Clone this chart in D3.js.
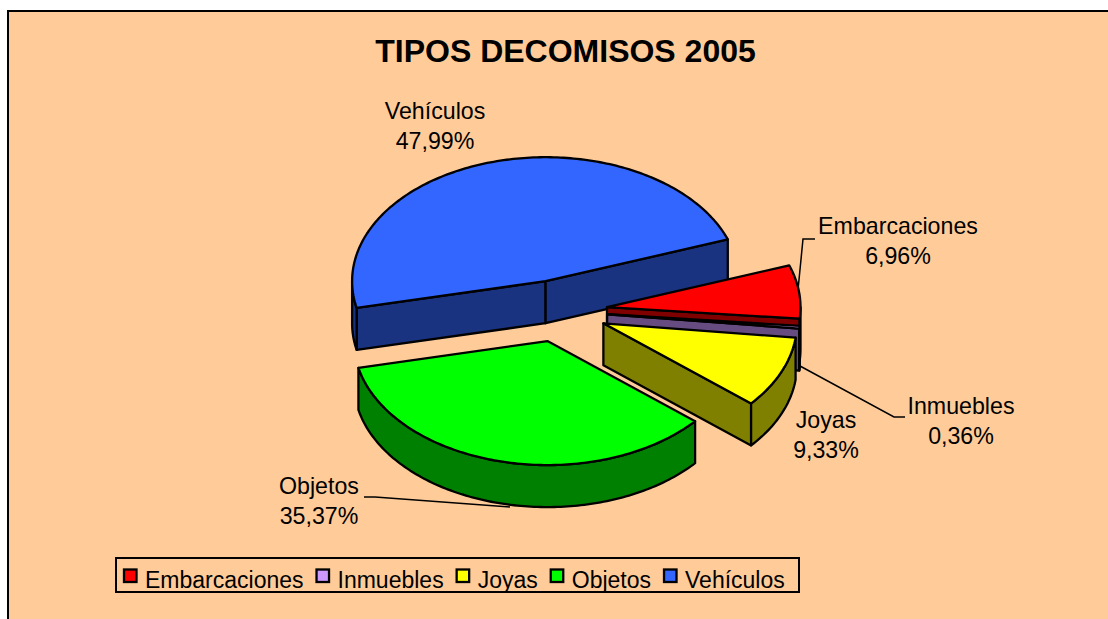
<!DOCTYPE html>
<html>
<head>
<meta charset="utf-8">
<script src="https://cdn.jsdelivr.net/npm/d3@7"></script>
<style>
  html, body { margin: 0; padding: 0; background: #fff; }
  svg { display: block; }
  text { font-family: "Liberation Sans", Arial, sans-serif; fill: #000; }
</style>
</head>
<body>
<svg id="chart" width="1108" height="619"></svg>
<script>
//Chart values
const chartTitle = "TIPOS DECOMISOS 2005";
const categories = ["Embarcaciones", "Inmuebles", "Joyas", "Objetos", "Vehículos"];
const percents = [6.96, 0.36, 9.33, 35.37, 47.99];
const percentLabels = ["6,96%", "0,36%", "9,33%", "35,37%", "47,99%"];
const topColors = ["#FF0000", "#CC99FF", "#FFFF00", "#00FF00", "#3366FF"];
const sideColors = ["#800000", "#664C80", "#808000", "#008000", "#1A3380"];

const svg = d3.select("#chart");

//Background panel, its right and bottom edges run out of the picture
svg.append("rect")
    .attr("x", 8).attr("y", 11)
    .attr("width", 1110).attr("height", 620)
    .style("fill", "#FFCC99")
    .style("stroke", "#000")
    .style("stroke-width", 2);

svg.append("text")
    .attr("x", 565.5).attr("y", 62)
    .attr("text-anchor", "middle")
    .style("font-size", "32px")
    .style("font-weight", "bold")
    .text(chartTitle);

//--------------------------------the 3D pie------------------------------------

const toRad = d => d * Math.PI / 180;

const pie = d3.pie().sort(null)
    .startAngle(toRad(70.3))
    .endAngle(toRad(70.3 + 360));

const slices = pie(percents);

const centerX = 559, centerY = 311, radiusX = 193.5, radiusY = 124;
const depth = 42, explode = 0.25;

//Projects a pie angle onto the tilted ellipse, r being a fraction of the radius
const project = (a, r) => [radiusX * r * Math.sin(a), -radiusY * r * Math.cos(a)];

const line = d3.line();

function arcPoints(ox, oy, a0, a1, dy) {
  const n = Math.max(2, Math.ceil((a1 - a0) / toRad(1)));
  return d3.range(n + 1).map(i => {
    const p = project(a0 + (a1 - a0) * i / n, 1);
    return [ox + p[0], oy + p[1] + dy];
  });
}

function drawFace(g, points, color) {
  g.append("path")
      .attr("d", line(points) + "Z")
      .style("fill", color)
      .style("stroke", "#000")
      .style("stroke-width", 2.3)
      .style("stroke-linejoin", "round");
}

//Painted back to front: Vehículos first, then clockwise
const drawOrder = [4, 0, 1, 2, 3];

drawOrder.forEach(i => {
  const d = slices[i];
  const g = svg.append("g").attr("class", "slice");
  const off = project((d.startAngle + d.endAngle) / 2, explode);
  const ox = centerX + off[0], oy = centerY + off[1];
  const s = d.startAngle, e = d.endAngle;
  const rim = a => {
    const p = project(a, 1);
    return [ox + p[0], oy + p[1]];
  };
  const drop = p => [p[0], p[1] + depth];

  //Cut faces, only those turned towards the viewer
  if (Math.sin(s) < 0) {
    drawFace(g, [[ox, oy], rim(s), drop(rim(s)), [ox, oy + depth]], sideColors[i]);
  }
  if (Math.sin(e) > 0) {
    drawFace(g, [[ox, oy], rim(e), drop(rim(e)), [ox, oy + depth]], sideColors[i]);
  }

  //Outer wall, visible on the front half of the ellipse only
  const lo = Math.max(s, toRad(90)), hi = Math.min(e, toRad(270));
  if (hi > lo) {
    drawFace(g, arcPoints(ox, oy, lo, hi, 0).concat(arcPoints(ox, oy, lo, hi, depth).reverse()), sideColors[i]);
  }

  //Top surface
  drawFace(g, [[ox, oy]].concat(arcPoints(ox, oy, s, e, 0)), topColors[i]);
});

//--------------------------------data labels-----------------------------------

const leaders = [
  [[815, 239], [803, 239], [798, 290]],
  [[905, 417], [894, 417], [800, 366]],
  [[364, 497], [375, 497], [510, 507]]
];

leaders.forEach(points => {
  svg.append("path")
      .attr("d", line(points))
      .style("fill", "none")
      .style("stroke", "#000")
      .style("stroke-width", 1.5);
});

const labelAnchors = [[898, 234], [961, 414], [826, 428], [319, 494], [435, 119]];

slices.forEach((d, i) => {
  const label = svg.append("text")
      .attr("text-anchor", "middle")
      .style("font-size", "23.2px");
  label.append("tspan")
      .attr("x", labelAnchors[i][0]).attr("y", labelAnchors[i][1])
      .text(categories[i]);
  label.append("tspan")
      .attr("x", labelAnchors[i][0]).attr("y", labelAnchors[i][1] + 30)
      .text(percentLabels[i]);
});

//-----------------------------------legend-------------------------------------

svg.append("rect")
    .attr("x", 116).attr("y", 558)
    .attr("width", 683).attr("height", 34)
    .style("fill", "none")
    .style("stroke", "#000")
    .style("stroke-width", 2);

let legendX = 124;
categories.forEach((name, i) => {
  svg.append("rect")
      .attr("x", legendX).attr("y", 569.5)
      .attr("width", 12.5).attr("height", 12.5)
      .style("fill", topColors[i])
      .style("stroke", "#000")
      .style("stroke-width", 2.3);
  const label = svg.append("text")
      .attr("x", legendX + 21).attr("y", 588)
      .style("font-size", "23px")
      .text(name);
  legendX += 21 + label.node().getComputedTextLength() + 13;
});
</script>
</body>
</html>
